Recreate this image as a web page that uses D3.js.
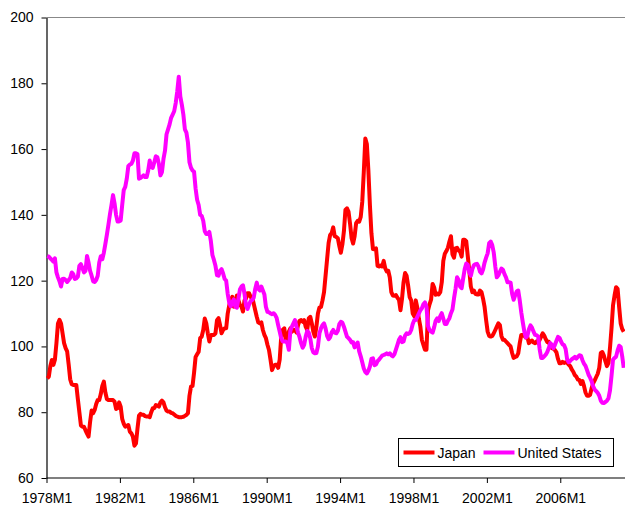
<!DOCTYPE html>
<html>
<head>
<meta charset="utf-8">
<script src="https://cdn.jsdelivr.net/npm/d3@7"></script>
<style>
  body { margin: 0; background: #fff; }
  svg { font-family: "Liberation Sans", Arial, sans-serif; }
</style>
</head>
<body>
<svg id="chart" width="625" height="506"></svg>
<script>
// monthly index, 1978M1 .. 2009M6
var startYear = 1978;
var seriesNames = ["Japan", "United States"];
var seriesColors = ["#ff0000", "#ff00ff"];
var yTicks = [60, 80, 100, 120, 140, 160, 180, 200];
var xTickLabels = ["1978M1", "1982M1", "1986M1", "1990M1", "1994M1", "1998M1", "2002M1", "2006M1"];

var japan = [
  90.3, 90.8, 94, 95.9, 94.4, 96, 101, 107, 108.1, 107, 104, 101,
  99.5, 98.5, 94.5, 90, 88.5, 88.3, 88.3, 88.3, 84, 80, 76, 75.6,
  75.6, 74.5, 73.5, 72.6, 77, 80.5, 79.7, 80.7, 82.5, 83.7, 83.7, 85.5,
  88, 89.3, 86, 84, 83.7, 83.7, 83.7, 83.7, 83.2, 81, 81.2, 83,
  81.7, 78, 76.5, 75.6, 75.8, 76.1, 74.1, 73.6, 72.6, 69.8, 70.5, 75,
  79, 79.5, 79.2, 79.2, 78.8, 78.7, 78.7, 78.5, 80, 81.2, 81.2, 82.2,
  82, 81.7, 83, 83.5, 83, 81.5, 80.5, 80.2, 80.2, 79.8, 79.7, 79.3,
  78.9, 78.7, 78.5, 78.5, 78.5, 78.6, 78.9, 79.2, 79.7, 85, 87.8, 88,
  92, 96.8, 97.6, 98.4, 102.5, 103, 105, 108.5, 107, 104, 101.5, 103.5,
  103.5, 103.5, 104, 108, 108.6, 106.5, 104, 105, 105.5, 105.5, 110, 112.5,
  114.1, 115.1, 112.1, 113, 115.5, 114, 112.6, 112.1, 110.6, 114, 114.6, 116.2,
  116.2, 115, 115.1, 113, 111, 109, 107.3, 107, 107.3, 105, 103.5, 102.5,
  100.5, 98.9, 96, 92.8, 94, 94.4, 94.4, 93.5, 96, 103, 105, 105.5,
  102, 101.5, 104.5, 105.5, 104.5, 105, 105, 104.2, 106.5, 107.8, 108, 107.5,
  108, 106, 105, 108.5, 109, 107, 104.5, 103, 106, 110, 111.8, 112,
  114, 116.5, 121.5, 126.5, 131.5, 133.9, 134.5, 136.2, 133.5, 133.3, 132.9, 130.5,
  128.5, 131, 135, 141.5, 142, 141, 137.4, 133, 131.3, 133.5, 137.5, 138.2,
  137.9, 139.4, 144, 153, 163.2, 161.5, 153.5, 143, 134.4, 129.6, 129.5, 129.8,
  124.5, 124.3, 124.6, 124.3, 126, 123.8, 122.8, 123, 121, 116.5, 115.5, 115.4,
  115.6, 114.8, 114.2, 111, 114.5, 119.5, 122.3, 121.5, 118.5, 115, 114, 110,
  109.2, 114, 111.8, 108.5, 106, 102, 100.5, 99, 99, 111, 112.8, 114.2,
  119, 118, 115.7, 116.1, 115.8, 116.5, 119.5, 126, 128.2, 129, 130, 131.9,
  133.5, 128, 127, 129.8, 130, 129.2, 128.8, 127.3, 132.4, 132.4, 132, 127.5,
  123, 118.2, 116.5, 117, 116, 115.8, 115.8, 117, 116.5, 114.5, 112, 108,
  104.5, 103.2, 103, 103.2, 104, 105, 106, 107, 106.5, 103.2, 102, 102,
  101.5, 101, 100.5, 100, 98, 96.5, 96.8, 97, 97.9, 101, 103.5, 103.5,
  103.2, 102.7, 102.8, 101, 101.5, 101.8, 101.2, 101, 101.5, 101, 102, 103,
  104, 103.3, 102.2, 101.3, 101.4, 100, 99.5, 99.3, 98.9, 98.2, 96.2, 94.9,
  94.9, 95.3, 95, 95.2, 95, 94.5, 94, 93, 92.3, 91.3, 90.8, 89.9,
  89.8, 88.6, 89.5, 88, 86, 85, 85, 85.3, 87.3, 88.8, 89.7, 90.7,
  91.7, 93.5, 98, 98.3, 97.2, 95.5, 94, 94.9, 99.5, 105.5, 112.5, 115.5,
  118, 117.5, 112, 107, 105.3, 104.5
];

var unitedStates = [
  127.5, 127.3, 126.8, 126.3, 125.8, 126.8, 122.5, 121, 119.8, 118.2, 120.5, 120.6,
  120.2, 119.6, 120.2, 120.8, 122.5, 122, 120.5, 120.7, 121.2, 124.5, 125, 123.8,
  122.5, 123, 127.5, 125.5, 123, 121.5, 119.8, 119.6, 120.2, 121.5, 125.5, 127.4,
  126.5, 128.5, 131.2, 134, 137, 140.2, 143, 146, 143.5, 140, 138, 138,
  138.3, 143, 147.5, 148.5, 151, 154.8, 155.3, 155.5, 156.5, 158.7, 158.7, 158.5,
  151, 151.2, 151.6, 152, 151.5, 151.5, 153.5, 156.5, 154.5, 154.3, 156, 157.8,
  157.5, 155.5, 152, 153, 157, 159.5, 164.5, 166, 167.5, 169.5, 170.5, 171.5,
  174, 177.5, 182, 176, 173.5, 170.5, 166, 165, 162, 156, 154.3, 153.5,
  153.1, 148, 144.6, 143, 140, 139.7, 138.2, 135, 134.2, 134.2, 134.8, 132,
  127.8, 126.3, 124.5, 121.7, 121.5, 123, 123.5, 122.2, 120.5, 120, 116, 113.3,
  112.2, 113.5, 114.3, 112, 111.8, 114.5, 117.3, 118.2, 118.6, 116, 112.4, 111.4,
  112.8, 113.8, 114.1, 114.8, 117.5, 119.4, 117.5, 117, 118.2, 117, 115.8, 112,
  110.5, 110.4, 110, 109.8, 110.1, 109.6, 108.7, 106.5, 104.5, 102.5, 101.5, 101.5,
  101.5, 101, 99, 104.8, 106, 107, 108, 106, 104.2, 102.8, 101, 99.6,
  100.5, 103, 104.7, 104.2, 102.5, 99.5, 98.2, 97.9, 98, 100, 104, 105.5,
  106.5, 107, 105.5, 103.2, 102.2, 102.8, 104.3, 105, 104.2, 104, 104.7, 106.8,
  107.5, 107.2, 106, 104.5, 103, 102.5, 102, 101.2, 101.3, 99.7, 100.4, 101.2,
  98.5, 97, 95.2, 93.3, 92.2, 91.8, 92.6, 93.9, 96.2, 96.4, 94.3, 94.5,
  95.5, 96, 96.6, 97.2, 97.4, 97.6, 97.9, 97.6, 97.9, 97.3, 97, 97.6,
  99, 100.5, 102, 102.8, 101.3, 101.5, 103.3, 104, 103.8, 104, 105, 106.8,
  108, 108, 109, 110, 111, 111.6, 112.8, 113.4, 112, 106.2, 105, 104.5,
  104.2, 105.8, 107.8, 108.5, 107.7, 109.2, 110.1, 108.5, 106.8, 106.8, 107.8, 108.6,
  110.1, 111.2, 114.6, 117.5, 121, 120.2, 118.2, 117.7, 120.7, 123.5, 125.2, 124.8,
  122.5, 121.5, 123.5, 124.7, 125, 125.1, 124.3, 122.7, 122.2, 123.4, 125.5, 127,
  128.3, 131.4, 131.9, 130.8, 128.5, 124.3, 121, 121.6, 122.7, 123.7, 123.3, 122,
  121, 119.5, 119.5, 119.4, 116, 114.2, 115.5, 116.7, 117, 114, 110.3, 107.3,
  104.5, 102.7, 103.2, 105.2, 106.4, 105.7, 104.5, 103.5, 103.4, 103, 99.2, 96.5,
  96.5, 97, 97.5, 98.3, 99.5, 101, 100.5, 99.5, 100.5, 101.7, 102.9, 102.6,
  101.5, 100.6, 100.4, 99.2, 96, 95.2, 95.6, 96.1, 96.4, 96.8, 96.3, 96.8,
  97.3, 97.2, 95.8, 94.8, 94.1, 92.8, 91.4, 90.5, 89.4, 87.9, 86.9, 86.4,
  85.9, 85, 83.5, 82.9, 82.8, 83.1, 83.5, 84.2, 86.6, 91, 96, 96.5,
  96.9, 98.8, 100.2, 99.8, 97, 93.5
];

var months = japan.map(function (d, i) {
    return (startYear + Math.floor(i / 12)) + "M" + (i % 12 + 1);
});

var svg = d3.select("#chart");

var xScale = d3.scaleLinear().domain([0, months.length]).range([46.5, 624.5]);
var yScale = d3.scaleLinear().domain([60, 200]).range([478, 17.5]);

// gray top border of the plot area
svg.append("line")
    .attr("x1", 46.5).attr("x2", 625)
    .attr("y1", yScale(200)).attr("y2", yScale(200))
    .attr("stroke", "#888").attr("stroke-width", 1);

var yAxis = d3.axisLeft(yScale)
    .tickValues(yTicks)
    .tickSize(5)
    .tickSizeOuter(0)
    .tickPadding(8);

var gy = svg.append("g").attr("transform", "translate(46.5,0)").call(yAxis);

var xTickValues = xTickLabels.map(function (lab) {
    return months.indexOf(lab);
});

var xAxis = d3.axisBottom(xScale)
    .tickValues(xTickValues)
    .tickFormat(function (d, i) { return xTickLabels[i]; })
    .tickSize(5)
    .tickSizeOuter(0)
    .tickPadding(10);

var gx = svg.append("g").attr("transform", "translate(0,478)").call(xAxis);

[gx, gy].forEach(function (g) {
    g.selectAll("text").attr("font-size", 14).attr("fill", "#000")
        .attr("font-family", "'Liberation Sans', Arial, sans-serif");
    g.selectAll("line").attr("stroke", "#000");
    g.select(".domain").attr("stroke", "#000").attr("stroke-width", 1.2);
});
gx.select(".domain").attr("d", "M46.5,0H625");

var line = d3.line()
    .x(function (d, i) { return xScale(i + 0.5); })
    .y(function (d) { return yScale(d); });

var series = [japan, unitedStates];
series.forEach(function (values, k) {
    svg.append("path")
        .datum(values)
        .attr("fill", "none")
        .attr("stroke", seriesColors[k])
        .attr("stroke-width", 4)
        .attr("stroke-linejoin", "round")
        .attr("d", line);
});

// legend
var legend = svg.append("g").attr("transform", "translate(398.5,438.5)");
legend.append("rect")
    .attr("width", 215).attr("height", 28)
    .attr("fill", "#fff").attr("stroke", "#000").attr("stroke-width", 1);

var legendX = [5, 85];
seriesNames.forEach(function (name, k) {
    legend.append("line")
        .attr("x1", legendX[k]).attr("x2", legendX[k] + 31)
        .attr("y1", 14).attr("y2", 14)
        .attr("stroke", seriesColors[k]).attr("stroke-width", 4);
    legend.append("text")
        .attr("x", legendX[k] + 34).attr("y", 19)
        .attr("font-size", 14)
        .text(name);
});
</script>
</body>
</html>
